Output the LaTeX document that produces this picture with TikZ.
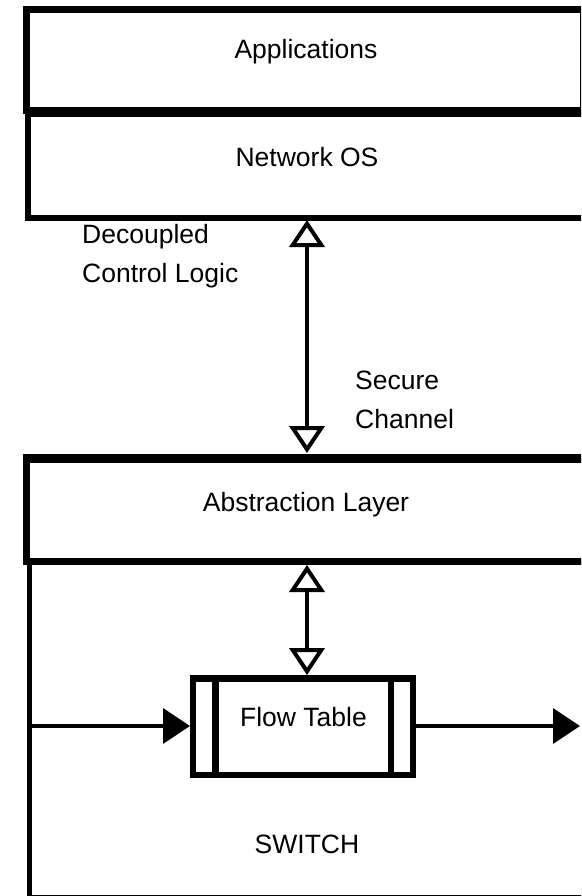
\documentclass[tikz,border=0pt]{standalone}
\usepackage{fontspec}
\setmainfont{Liberation Sans}
\usetikzlibrary{arrows.meta}
\begin{document}
\begin{tikzpicture}[x=1pt,y=-1pt,
  lbl/.style={font=\fontsize{26.5}{30}\selectfont, inner sep=0pt, anchor=base},
  lblw/.style={lbl, anchor=base west},
  frame/.style={draw=black, line width=6.5pt},
  chan/.style={line width=4pt, {Triangle[open,length=27pt,width=35pt]}-{Triangle[open,length=27pt,width=35pt]}},
  flow/.style={line width=3.5pt, -{Triangle[length=27pt,width=35pt]}}]
\useasboundingbox (0,0) rectangle (581,896);
\begin{scope}
\clip (0,0) rectangle (581,896);
% boxes
\draw[frame, line width=7pt] (26,9.5) rectangle (583.5,110.5);
\draw[frame, line width=6pt] (28,114.5) rectangle (640,217.5);
\draw[frame, line width=7pt] (26,457) rectangle (640,561.5);
\draw[frame, line width=4pt] (26,461) -- (640,461);
\draw[frame, line width=5.5pt] (29.5,561.5) rectangle (640,898);
% flow table
\draw[frame] (193,678.5) rectangle (413,775);
\draw[frame] (215.5,678.5) -- (215.5,775);
\draw[frame] (391,678.5) -- (391,775);
\end{scope}
% connector end points
\coordinate (nosB) at (307,220);
\coordinate (absT) at (307,453);
\coordinate (absB) at (307,565);
\coordinate (ftT) at (307,675);
\coordinate (swL) at (32,726);
\coordinate (ftL) at (190,726);
\coordinate (ftR) at (416,726);
\coordinate (out) at (580,726);
% connectors
\draw[chan] (nosB) -- (absT);
\draw[chan] (absB) -- (ftT);
\draw[flow] (swL) -- (ftL);
\draw[flow] (ftR) -- (out);
% labels
\node[lbl] (tApp) at (306,59) {Applications};
\node[lbl] (tNos) at (307,167) {Network OS};
\node[lbl] (tAbs) at (306,511) {Abstraction Layer};
\node[lbl] (tFt) at (303.5,726) {Flow Table};
\node[lbl] (tSw) at (307,853) {SWITCH};
\node[lblw] (tDec1) at (82,243) {Decoupled};
\node[lblw] (tDec2) at (82,282) {Control Logic};
\node[lblw] (tSec1) at (355,389) {Secure};
\node[lblw] (tSec2) at (355,428) {Channel};
\end{tikzpicture}
\end{document}
